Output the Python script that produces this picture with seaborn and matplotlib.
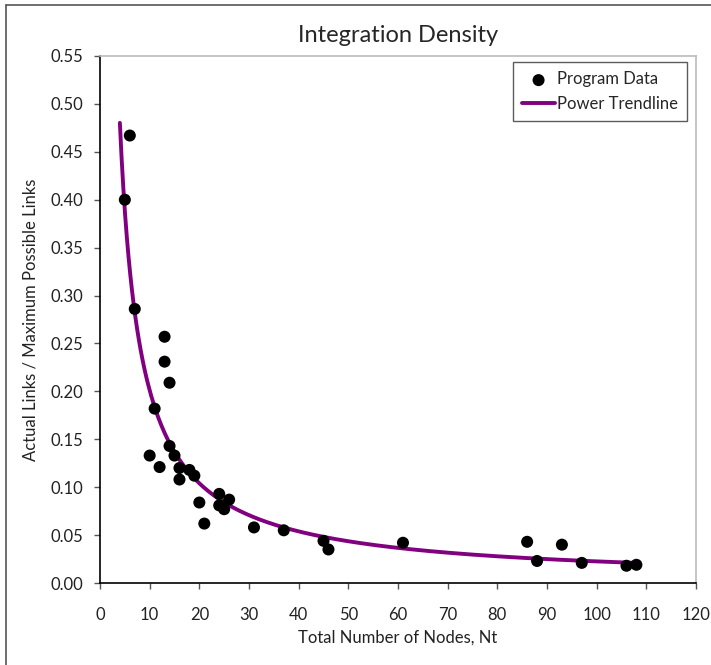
import matplotlib
matplotlib.use("Agg")
import matplotlib.pyplot as plt
import seaborn as sns
import numpy as np
import pandas as pd

# program data
nodes = [5, 6, 7, 10, 11, 12, 13, 13, 14, 14, 15, 16, 16, 18, 19, 20, 21,
         24, 24, 25, 26, 31, 37, 45, 46, 61, 86, 88, 93, 97, 106, 108]
density = [0.400, 0.467, 0.286, 0.133, 0.182, 0.121, 0.257, 0.231, 0.209,
           0.143, 0.133, 0.120, 0.108, 0.118, 0.112, 0.084, 0.062, 0.093,
           0.081, 0.077, 0.087, 0.058, 0.055, 0.044, 0.035, 0.042, 0.043,
           0.023, 0.040, 0.021, 0.018, 0.019]
x_ticks = list(range(0, 121, 10))
y_ticks = [round(v * 0.05, 2) for v in range(0, 12)]

df = pd.DataFrame({"Nodes": nodes, "Density": density})

# power trendline, same as Excel (least squares in log-log space)
b, ln_a = np.polyfit(np.log(df["Nodes"]), np.log(df["Density"]), 1)
x_fit = np.linspace(4, 108, 300)
trend = pd.DataFrame({"Nodes": x_fit, "Density": np.exp(ln_a) * x_fit ** b})

sns.set_style("white")
plt.rcParams["font.family"] = ["Lato", "DejaVu Sans"]

W, H = 711, 665
fig = plt.figure(figsize=(W / 100, H / 100), dpi=100)
ax = fig.add_axes([100 / W, (H - 583) / H, 596 / W, 527 / H])

sns.lineplot(data=trend, x="Nodes", y="Density", ax=ax, color="#800080",
             linewidth=2.8, label="Power Trendline", zorder=2)
sns.scatterplot(data=df, x="Nodes", y="Density", ax=ax, color="black",
                s=75, edgecolor="none", label="Program Data", zorder=3)

ax.set_xlim(0, 120)
ax.set_ylim(0, 0.55)
ax.set_xticks(x_ticks)
ax.set_yticks(y_ticks)
ax.set_yticklabels([f"{v:.2f}" for v in y_ticks])
ax.tick_params(direction="out", length=4, width=1, color="#555555",
               labelsize=12, labelcolor="#222222", left=True, bottom=True)
ax.tick_params(axis="y", pad=8)
ax.tick_params(axis="x", pad=13)
for side in ["left", "bottom"]:
    ax.spines[side].set_color("black")
    ax.spines[side].set_linewidth(1.2)
for side in ["top", "right"]:
    ax.spines[side].set_color("#bbbbbb")
    ax.spines[side].set_linewidth(1.2)

ax.set_title("Integration Density", fontsize=17, pad=10)
ax.set_xlabel("Total Number of Nodes, Nt", fontsize=12, labelpad=5,
              color="#222222")
ax.set_ylabel("Actual Links / Maximum Possible Links", fontsize=12, labelpad=9,
              color="#222222")

handles, labels = ax.get_legend_handles_labels()
order = [labels.index("Program Data"), labels.index("Power Trendline")]
leg = ax.legend([handles[i] for i in order], [labels[i] for i in order],
                loc="upper right", bbox_to_anchor=(0.985, 0.988), fontsize=12,
                frameon=True, fancybox=False, edgecolor="#333333",
                handlelength=2.0, handletextpad=0.1, borderpad=0.55,
                borderaxespad=0.0, labelspacing=0.5)
leg.get_frame().set_linewidth(1.0)

# outer chart border (only top and left fall inside the picture)
fig.add_artist(plt.Line2D([6 / W, 6 / W], [0, 1 - 5 / H],
                          transform=fig.transFigure, color="#555555", lw=1.2))
fig.add_artist(plt.Line2D([6 / W, 1], [1 - 5 / H, 1 - 5 / H],
                          transform=fig.transFigure, color="#555555", lw=1.2))

fig.savefig("out.png", dpi=100)
